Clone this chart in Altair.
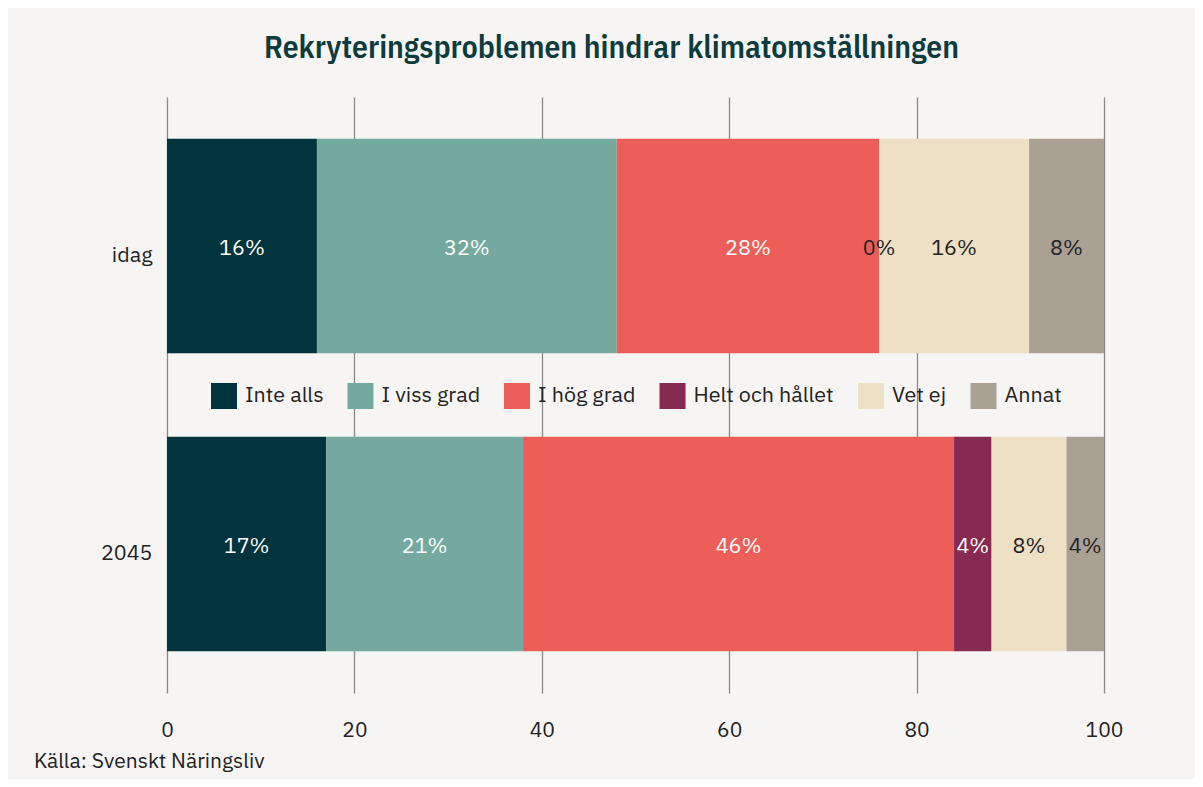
import altair as alt
import pandas as pd

title_text = "Rekryteringsproblemen hindrar klimatomställningen"
source_text = "Källa: Svenskt Näringsliv"
periods = ["idag", "2045"]
categories = ["Inte alls", "I viss grad", "I hög grad", "Helt och hållet", "Vet ej", "Annat"]
colors = ["#01343d", "#74a9a0", "#ec5e57", "#872a51", "#ede0c5", "#aaa094"]
idag_values = [16, 32, 28, 0, 16, 8]
y2045_values = [17, 21, 46, 4, 8, 4]
light_text = [True, True, True, True, False, False]
x_ticks = [0, 20, 40, 60, 80, 100]

BODY = "'IBM Plex Sans', 'Noto Sans', sans-serif"
TITLE_FONT = "'IBM Plex Sans Condensed', 'Liberation Sans Narrow', 'DejaVu Sans Condensed', Roboto, sans-serif"
DARK = "#222222"

rows = []
for p, vals in zip(periods, [idag_values, y2045_values]):
    for i, (c, v) in enumerate(zip(categories, vals)):
        rows.append(dict(period=p, cat=c, value=v, order=i, label=f"{v}%",
                         tcolor="#ffffff" if (light_text[i] and v > 0) else DARK))
df = pd.DataFrame(rows)

base = alt.Chart(df).transform_stack(
    stack="value", groupby=["period"], as_=["v0", "v1"],
    sort=[alt.SortField(field="order", order="ascending")]
).transform_calculate(mid="(datum.v0 + datum.v1) / 2")

yenc = alt.Y("period:N", sort=periods, title=None,
             scale=alt.Scale(paddingInner=0.28, paddingOuter=0.14),
             axis=alt.Axis(domain=False, ticks=False, grid=False, labelFont=BODY,
                           labelFontSize=21.5, labelColor=DARK, labelPadding=15,
                           labelOffset=10))

bars = base.mark_bar().encode(
    x=alt.X("v0:Q", scale=alt.Scale(domain=[0, 100]), title=None,
            axis=alt.Axis(values=x_ticks, grid=True, gridColor="#8a8a8a", gridWidth=1.3,
                          domain=False, ticks=False, labelFlush=False, labelFont=BODY,
                          labelFontSize=21, labelColor=DARK, labelPadding=26)),
    x2="v1:Q",
    y=yenc,
    color=alt.Color("cat:N", scale=alt.Scale(domain=categories, range=colors),
                    legend=alt.Legend(orient="none", legendX=44, legendY=286,
                                      direction="horizontal", title=None,
                                      symbolType="square", symbolSize=676,
                                      symbolStrokeWidth=0, symbolOpacity=1,
                                      labelFont=BODY, labelFontSize=21.5, labelColor=DARK,
                                      labelOffset=8, columnPadding=23.5, padding=0)),
    order=alt.Order("order:Q"),
)

labels = base.mark_text(font=BODY, fontSize=21.5, dy=2.5).encode(
    x=alt.X("mid:Q"),
    y=alt.Y("period:N", sort=periods),
    text="label:N",
    color=alt.Color("tcolor:N", scale=None),
)

source = alt.Chart(pd.DataFrame({"t": [source_text]})).mark_text(
    font=BODY, fontSize=21, color=DARK, align="left", baseline="alphabetic"
).encode(text="t:N", x=alt.value(-133), y=alt.value(671))

chart = alt.layer(bars, labels, source).resolve_scale(color="independent").properties(
    width=937, height=596,
    autosize=alt.AutoSizeParams(type="none"),
    padding={"left": 159, "top": 89, "right": 91, "bottom": 86},
    background="#f7f5f3",
    title=alt.TitleParams(title_text, font=TITLE_FONT, fontSize=31.5, fontWeight=600,
                          color="#0d3b3e", anchor="middle", dx=-24, offset=33),
).configure_view(stroke=None)

chart.save("out.html", embed_options={"renderer": "svg", "actions": False})
